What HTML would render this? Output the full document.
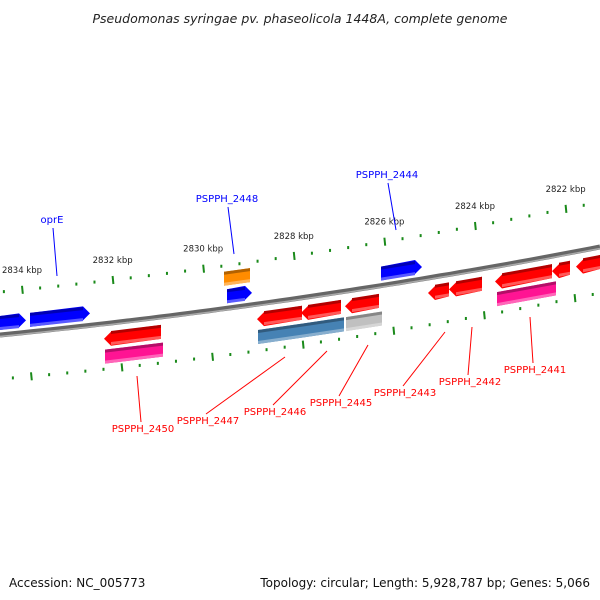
<!DOCTYPE html>
<html><head><meta charset="utf-8"><style>
html,body{margin:0;padding:0;background:#fff;width:600px;height:600px;overflow:hidden}
svg{display:block;font-family:"DejaVu Sans","Liberation Sans",sans-serif}
</style></head><body>
<svg id="map" width="600" height="600" viewBox="0 0 600 600">
<text x="300" y="23" text-anchor="middle" font-size="12.5" font-style="italic" fill="#222">Pseudomonas syringae pv. phaseolicola 1448A, complete genome</text>
<text x="9" y="587" font-size="12" fill="#111">Accession: NC_005773</text>
<text x="590" y="587" text-anchor="end" font-size="12" fill="#111">Topology: circular; Length: 5,928,787 bp; Genes: 5,066</text>
<g id="g"></g>
</svg>
<script>
// data
const majorKbp=[2834,2832,2830,2828,2826,2824,2822];
const tickLabels=["2834 kbp","2832 kbp","2830 kbp","2828 kbp","2826 kbp","2824 kbp","2822 kbp"];
const geneNames=["g1","oprE","PSPPH_2448a","PSPPH_2448","PSPPH_2444","PSPPH_2450","PSPPH_2450b","PSPPH_2447","PSPPH_2447b","PSPPH_2446","PSPPH_2446b","PSPPH_2445","PSPPH_2445b","PSPPH_2443","PSPPH_2442","PSPPH_2441","PSPPH_2441b","PSPPH_2440","PSPPH_2439"];
const geneStart=[0,30,227,224,381,104,105,257,258,301,303,345,346,428,449,495,497,552,576];
const geneEnd=[26,90,252,250,422,161,163,302,303,341,344,379,382,449,482,552,556,570,600];
const geneLane=[-12,-12,-12,-30,-12,15,33,15,33,15,33,15,33,15,15,15,33,15,15];
const geneDir=[1,1,1,0,1,-1,0,-1,0,-1,0,-1,0,-1,-1,-1,0,-1,-1];
const geneColor=["#0000ff","#0000ff","#0000ff","#ff8c00","#0000ff","#ff0000","#ff1493","#ff0000","#4682b4","#ff0000","#4682b4","#ff0000","#c0c0c0","#ff0000","#ff0000","#ff0000","#ff1493","#ff0000","#ff0000"];
const labels=["oprE","PSPPH_2448","PSPPH_2444","PSPPH_2450","PSPPH_2447","PSPPH_2446","PSPPH_2445","PSPPH_2443","PSPPH_2442","PSPPH_2441"];
const labelColor=["#0000ff","#0000ff","#0000ff","#ff0000","#ff0000","#ff0000","#ff0000","#ff0000","#ff0000","#ff0000"];
const labelX=[52,227,387,143,208,275,341,405,470,535];
const labelY=[223,202,178,432,424,415,406,396,385,373];
const anchorX=[57,234,396,137,285,327,368,445,472,530];
const anchorY=[276,254,230,376,357,351,345,332,327,317];

const NS="http://www.w3.org/2000/svg";
const G=document.getElementById('g');
function el(t,a,p){const e=document.createElementNS(NS,t);for(const k in a)e.setAttribute(k,a[k]);(p||G).appendChild(e);return e;}
function quad(a,c,b){return x=>{const t=x/600;return (1-t)*(1-t)*a+2*t*(1-t)*c+t*t*b;};}
const yUp=quad(292,263,202), yLow=quad(379,354,293), yBack=quad(335,305,247);
const xUp=k=>22+(2834-k)*45.3, xLow=k=>31+(2834-k)*45.3;

// backbone
let d="";for(let x=0;x<=600;x+=10)d+=(x?"L":"M")+x+","+yBack(x).toFixed(1);
let e=el('path',{d:d,stroke:"#666",'stroke-width':5,fill:"none"});

e=el('path',{d:d,stroke:"#aaa",'stroke-width':1.5,fill:"none",transform:"translate(0,1.5)"});


// ticks
function track(xf,yf,name){
  for(let k=2836;k>=2820;k-=0.4){
    const kk=Math.round(k*10)/10, x=xf(kk);
    if(x<-3||x>603)continue;
    const y=yf(x), major=Math.abs(kk-Math.round(kk/2)*2)<0.01;
    let t;
    if(major){t=el('line',{x1:x,y1:y-4,x2:x+0.8,y2:y+4,stroke:"#1a8a1a",'stroke-width':2});}
    else{t=el('rect',{x:x-1,y:y-1.5,width:2,height:3,fill:"#1a8a1a"});}
    
  }
}
track(xUp,yUp,'upper-track');track(xLow,yLow,'lower-track');
majorKbp.forEach((k,i)=>{const x=xUp(k);
  const t=el('text',{x:x,y:yUp(x)-17,'text-anchor':"middle",'font-size':8.5,fill:"#222"});t.textContent=tickLabels[i];
  });

// genes
function shade(c,f){const n=parseInt(c.slice(1),16);let r=n>>16,g=(n>>8)&255,b=n&255;
  const m=v=>Math.max(0,Math.min(255,Math.round(f<1?v*f:v+(255-v)*(f-1))));return `rgb(${m(r)},${m(g)},${m(b)})`;}
geneStart.forEach((s,i)=>{
  const x1=s,x2=geneEnd[i],off=geneLane[i],dir=geneDir[i],h=14,hd=7;
  const yc1=yBack(x1)+off,yc2=yBack(x2)+off;
  const grp=el('g',{});
  
  const hw=7;let pts;
  if(dir===1)pts=[[x1,yc1-hd],[x2-hw,yc2-hd],[x2,yc2],[x2-hw,yc2+hd],[x1,yc1+hd]];
  else if(dir===-1)pts=[[x1+hw,yc1-hd],[x2,yc2-hd],[x2,yc2+hd],[x1+hw,yc1+hd],[x1,yc1]];
  else pts=[[x1,yc1-hd],[x2,yc2-hd],[x2,yc2+hd],[x1,yc1+hd]];
  el('polygon',{points:pts.map(p=>p.join(",")).join(" "),fill:geneColor[i]},grp);
  // dark top strip
  const ax=dir===-1?x1+hw:x1, bx=dir===1?x2-hw:x2;
  const ya=yBack(ax)+off-hd,yb=yBack(bx)+off-hd;
  el('polygon',{points:`${ax},${ya} ${bx},${yb} ${bx},${yb+3} ${ax},${ya+3}`,fill:shade(geneColor[i],0.7)},grp);
  el('polygon',{points:`${ax},${ya+11} ${bx},${yb+11} ${bx},${yb+14} ${ax},${ya+14}`,fill:shade(geneColor[i],1.35)},grp);
});

// labels
labels.forEach((l,i)=>{
  const ln=el('line',{x1:labelX[i]+(i<3?1:-2),y1:labelY[i]+(i<3?5:-10),x2:anchorX[i],y2:anchorY[i],stroke:labelColor[i],'stroke-width':1});
  
  const t=el('text',{x:labelX[i],y:labelY[i],'text-anchor':"middle",'font-size':10,fill:labelColor[i]});t.textContent=l;
  
});
</script>
</body></html>
